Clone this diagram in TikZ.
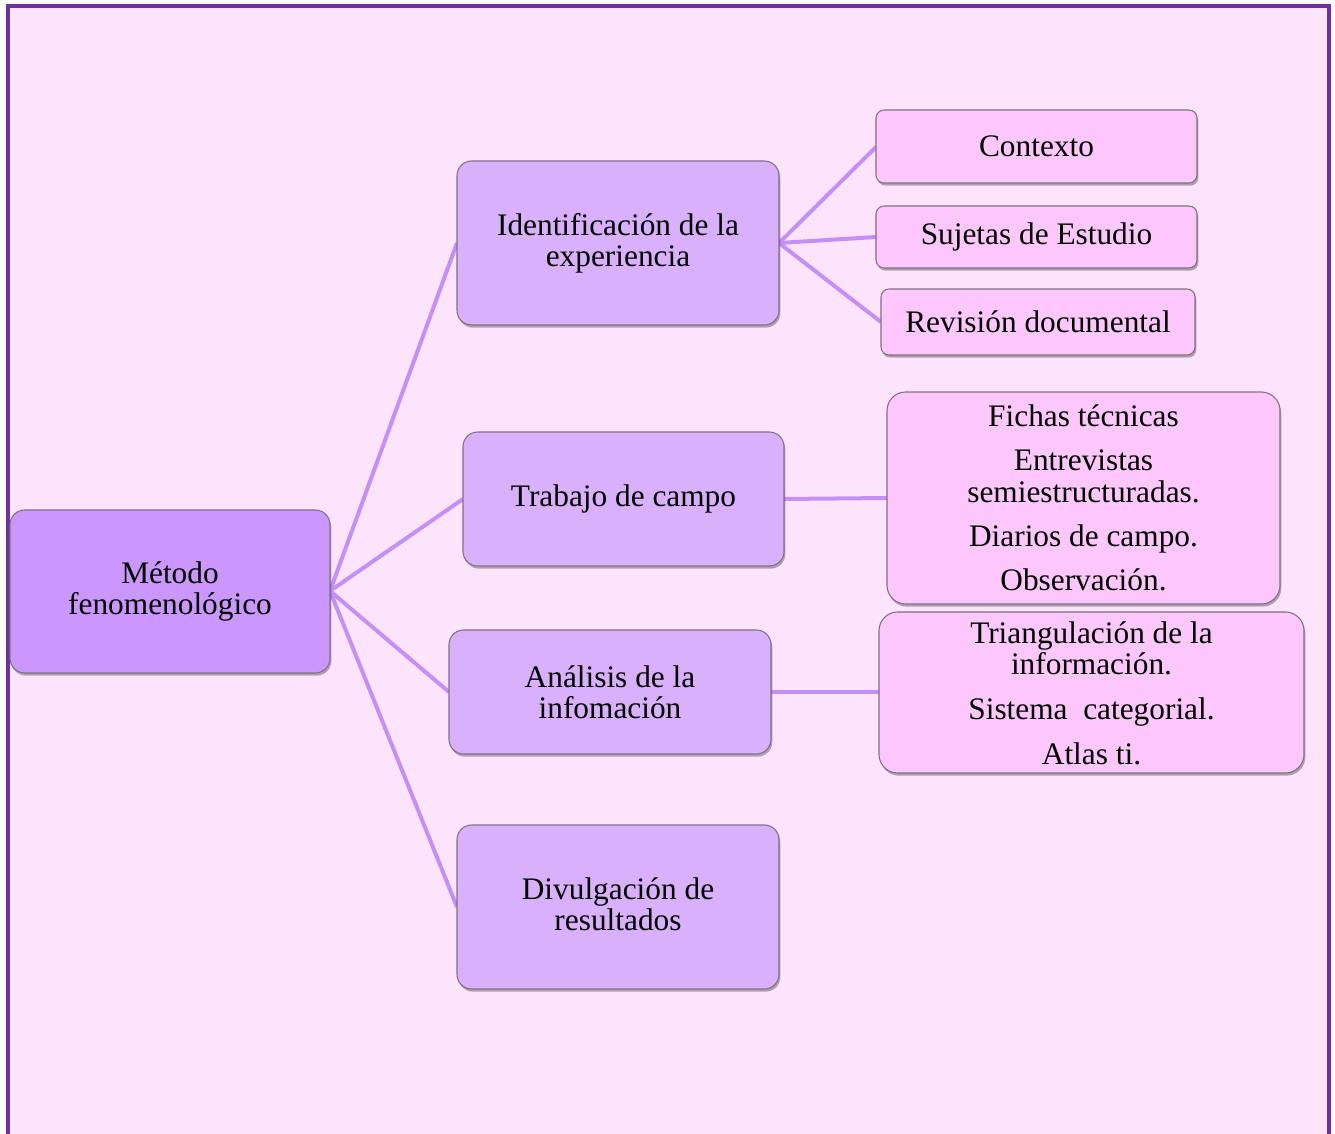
\documentclass[tikz,border=0pt]{standalone}
\usepackage{fontspec}
\setmainfont{Liberation Serif}
\usetikzlibrary{shadows}
\definecolor{bgpink}{RGB}{252,228,252}
\definecolor{framepurple}{RGB}{112,48,160}
\definecolor{lvlone}{RGB}{202,152,252}
\definecolor{lvltwo}{RGB}{216,176,252}
\definecolor{lvlthree}{RGB}{252,200,252}
\definecolor{linkc}{RGB}{196,144,248}
\definecolor{edgegray}{RGB}{130,112,130}
\tikzset{
  boxbase/.style={draw=edgegray, line width=0.8pt, inner sep=0pt,
    drop shadow={shadow xshift=1pt, shadow yshift=-2pt, opacity=0.3, fill=black}},
  sz/.style 2 args={minimum width=#1*0.75pt, minimum height=#2*0.75pt},
  rootbox/.style={boxbase, fill=lvlone, rounded corners=11pt},
  midbox/.style={boxbase, fill=lvltwo, rounded corners=11pt},
  leafbox/.style={boxbase, fill=lvlthree, rounded corners=6pt},
  listbox/.style={boxbase, fill=lvlthree, rounded corners=14pt},
  txt/.style={align=center, inner sep=0pt, font=\fontsize{23.5}{23.3}\selectfont},
  link/.style={draw=linkc, line width=3pt}
}
\begin{document}
\begin{tikzpicture}[x=0.75pt,y=-0.75pt]
\useasboundingbox (0,0) rectangle (1335,1134);
\fill[white] (0,0) rectangle (1335,1134);
\fill[bgpink] (8,6) rectangle (1329,1134);
\draw[framepurple, line width=2.4pt] (8,1134) -- (8,6) -- (1329,6) -- (1329,1134);

% links first (behind boxes)
\coordinate (metR) at (330,591);
\coordinate (ideL) at (457,243);
\coordinate (ideR) at (779,243);
\coordinate (traL) at (463,499);
\coordinate (traR) at (784,499);
\coordinate (anaL) at (449,692);
\coordinate (anaR) at (771,692);
\coordinate (divL) at (457,907);
\coordinate (conL) at (876,147);
\coordinate (sujL) at (876,237);
\coordinate (revL) at (881,322);
\coordinate (ficL) at (887,498);
\coordinate (triL) at (879,692);

\draw[link] (metR) -- (ideL);
\draw[link] (metR) -- (traL);
\draw[link] (metR) -- (anaL);
\draw[link] (metR) -- (divL);
\draw[link] (ideR) -- (conL);
\draw[link] (ideR) -- (sujL);
\draw[link] (ideR) -- (revL);
\draw[link] (traR) -- (ficL);
\draw[link] (anaR) -- (triL);

\node[rootbox, sz={320}{163}, txt] (met) at (170,591.5) {Método\\fenomenológico};
\node[midbox, sz={322}{164}, txt] (ide) at (618,243) {Identificación de la\\experiencia};
\node[midbox, sz={321}{134}, txt] (tra) at (623.5,499) {Trabajo de campo};
\node[midbox, sz={322}{124}, txt] (ana) at (610,692) {Análisis de la\\infomación};
\node[midbox, sz={322}{164}] (div) at (618,907) {};
\node[txt] (divtxt) at ([yshift=2pt]div.center) {Divulgación de\\resultados};

\node[leafbox, sz={321}{73}, txt] (con) at (1036.5,146.5) {Contexto};
\node[leafbox, sz={321}{62}, txt] (suj) at (1036.5,237) {Sujetas de Estudio};
\node[leafbox, sz={314}{66}, txt] (rev) at (1038,322) {Revisión documental};

\node[listbox, sz={393}{212}] (fic) at (1083.5,498) {};
\node[txt] (fictxt) at ([yshift=0pt]fic.center) {Fichas técnicas\\[10pt]Entrevistas\\semiestructuradas.\\[10pt]Diarios de campo.\\[10pt]Observación.};
\node[listbox, sz={425}{161}] (tri) at (1091.5,692.5) {};
\node[txt] (tritxt) at ([yshift=-0.5pt]tri.center) {Triangulación de la\\información.\\[10.5pt]Sistema\ \ categorial.\\[10.5pt]Atlas ti.};
\end{tikzpicture}
\end{document}
